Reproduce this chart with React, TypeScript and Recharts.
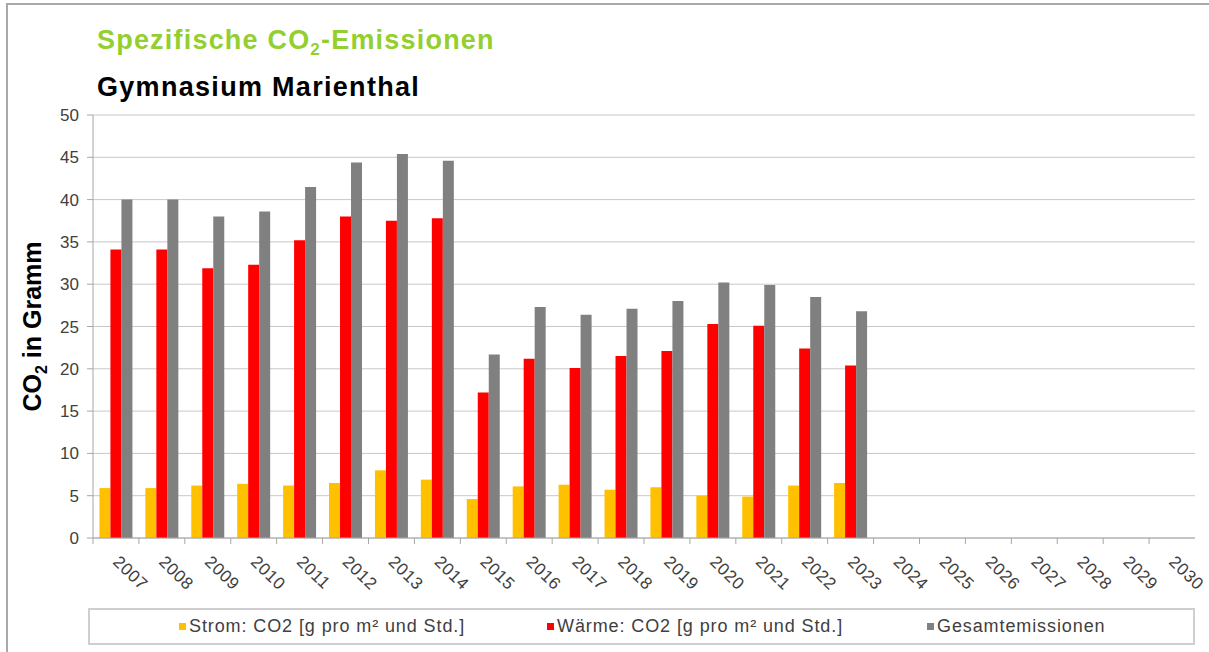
import React from 'react';
import { BarChart, Bar, XAxis, YAxis, CartesianGrid, Legend } from 'recharts';

const years = ['2007', '2008', '2009', '2010', '2011', '2012', '2013', '2014', '2015', '2016', '2017', '2018', '2019', '2020', '2021', '2022', '2023', '2024', '2025', '2026', '2027', '2028', '2029', '2030'];
const stromValues = [5.9, 5.9, 6.2, 6.4, 6.2, 6.5, 8.0, 6.9, 4.6, 6.1, 6.3, 5.7, 6.0, 5.0, 4.9, 6.2, 6.5];
const waermeValues = [34.1, 34.1, 31.9, 32.3, 35.2, 38.0, 37.5, 37.8, 17.2, 21.2, 20.1, 21.5, 22.1, 25.3, 25.1, 22.4, 20.4];
const gesamtValues = [40.0, 40.0, 38.0, 38.6, 41.5, 44.4, 45.4, 44.6, 21.7, 27.3, 26.4, 27.1, 28.0, 30.2, 29.9, 28.5, 26.8];
const yTicks = [0, 5, 10, 15, 20, 25, 30, 35, 40, 45, 50];
const seriesKeys = ['strom', 'waerme', 'gesamt'];
const seriesNames = ['Strom: CO2 [g pro m² und Std.]', 'Wärme: CO2 [g pro m² und Std.]', 'Gesamtemissionen'];
const seriesColors = ['#FFC000', '#FF0000', '#808080'];
const titleText = 'Spezifische CO';
const titleSub = '2';
const titleRest = '-Emissionen';
const subtitleText = 'Gymnasium Marienthal';

const data = years.map((year, i) => ({
  year,
  strom: stromValues[i] ?? null,
  waerme: waermeValues[i] ?? null,
  gesamt: gesamtValues[i] ?? null,
}));

const FONT = '"Liberation Sans", Arial, sans-serif';
const AXIS = '#a6a6a6';
const GRID = '#c8c8c8';
const TEXT = '#404040';
const legendLeft = [89, 457, 837];

const XTick = (props: any) => {
  const { x, y, payload } = props;
  const off = payload && payload.offset ? payload.offset : 0;
  return (
    <g>
      <line x1={x - off} x2={x - off} y1={y} y2={y + 6} stroke={AXIS} />
      <text
        x={0}
        y={0}
        transform={`translate(${x - 4},${y + 25}) rotate(44)`}
        fontSize={17}
        fill={TEXT}
        fontFamily={FONT}
        letterSpacing={0.6}
        textAnchor="start"
      >
        {payload.value}
      </text>
    </g>
  );
};

const YLabel = (props: any) => {
  const vb = props.viewBox || { x: 0, y: 115, width: 93, height: 423 };
  const cx = 41;
  const cy = vb.y + vb.height / 2;
  return (
    <text
      transform={`translate(${cx},${cy}) rotate(-90)`}
      textAnchor="middle"
      fontSize={25}
      fontWeight="bold"
      fill="#000"
      fontFamily={FONT}
    >
      <tspan>CO</tspan>
      <tspan fontSize={16} dy={6}>2</tspan>
      <tspan dy={-6}> in Gramm</tspan>
    </text>
  );
};

const renderLegend = () => (
  <div
    style={{
      position: 'relative',
      width: 1107,
      height: 37,
      boxSizing: 'border-box',
      border: '2px solid #cfcfcf',
      background: '#fff',
      fontFamily: FONT,
    }}
  >
    {seriesNames.map((n, i) => (
      <div
        key={n}
        style={{
          position: 'absolute',
          left: legendLeft[i],
          top: 0,
          height: 33,
          display: 'flex',
          alignItems: 'center',
          whiteSpace: 'nowrap',
        }}
      >
        <span style={{ width: 7, height: 7, background: seriesColors[i], marginRight: 3, display: 'inline-block' }} />
        <span style={{ fontSize: 18, color: TEXT, letterSpacing: 0.9 }}>{n}</span>
      </div>
    ))}
  </div>
);

export default function App() {
  return (
    <div style={{ position: 'absolute', left: 0, top: 0, width: 1209, height: 652, background: '#fff', overflow: 'hidden' }}>
      <div
        style={{
          position: 'absolute',
          left: 6,
          top: 3,
          width: 1210,
          height: 660,
          borderTop: '2px solid #a9a9a9',
          borderLeft: '2px solid #a9a9a9',
        }}
      />
      <div
        style={{
          position: 'absolute',
          left: 97,
          top: 27,
          fontFamily: FONT,
          fontSize: 27,
          lineHeight: '27px',
          fontWeight: 'bold',
          color: '#92CF2F',
          letterSpacing: 1.2,
          whiteSpace: 'nowrap',
        }}
      >
        {titleText}
        <span style={{ fontSize: 17, position: 'relative', top: 6 }}>{titleSub}</span>
        {titleRest}
      </div>
      <div
        style={{
          position: 'absolute',
          left: 97,
          top: 74,
          fontFamily: FONT,
          fontSize: 27,
          lineHeight: '27px',
          fontWeight: 'bold',
          color: '#000',
          letterSpacing: 1.3,
          whiteSpace: 'nowrap',
        }}
      >
        {subtitleText}
      </div>
      <div style={{ position: 'absolute', left: 0, top: 0 }}>
        <BarChart
          width={1209}
          height={652}
          data={data}
          margin={{ top: 115, right: 14, bottom: 54, left: 0 }}
          barCategoryGap="14%"
          barGap={0}
        >
          <CartesianGrid vertical={false} stroke={GRID} />
          <XAxis
            dataKey="year"
            height={60}
            interval={0}
            tickSize={0}
            tickMargin={0}
            tickLine={false}
            axisLine={{ stroke: AXIS }}
            tick={<XTick />}
          />
          <YAxis
            width={93}
            domain={[0, 50]}
            ticks={yTicks}
            interval={0}
            tickSize={6}
            tickMargin={8}
            axisLine={{ stroke: AXIS }}
            tickLine={{ stroke: AXIS }}
            tick={{ fontSize: 17, fill: TEXT, fontFamily: FONT }}
            label={{ content: YLabel } as any}
          />
          <YAxis
            yAxisId="r"
            orientation="right"
            width={0}
            domain={[0, 50]}
            tick={false}
            tickLine={false}
            axisLine={{ stroke: AXIS }}
          />
          {seriesKeys.map((k, i) => (
            <Bar key={k} dataKey={k} name={seriesNames[i]} fill={seriesColors[i]} isAnimationActive={false} />
          ))}
          <Legend
            layout="horizontal"
            verticalAlign="middle"
            align="center"
            width={1107}
            height={37}
            wrapperStyle={{ left: 88, top: 608, width: 1107, height: 37 }}
            content={renderLegend}
          />
        </BarChart>
      </div>
    </div>
  );
}
